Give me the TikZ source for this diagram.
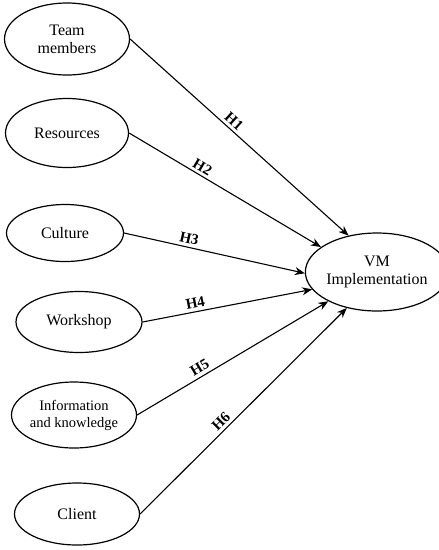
\documentclass[tikz,border=0pt]{standalone}
\usepackage{fontspec}
\setmainfont{Liberation Serif}
\usetikzlibrary{arrows.meta,shapes.geometric}

\begin{document}
\begin{tikzpicture}[x=1pt,y=-1pt,>={Stealth[length=10pt,width=8pt]},
  factor/.style={ellipse,draw,line width=1.2pt,inner sep=0pt,align=center,font=\fontsize{16}{18}\selectfont},
  path/.style={->,line width=1.1pt},
  hyp/.style={sloped,above,inner sep=3pt,font=\fontsize{15}{16}\selectfont\bfseries}]
  \useasboundingbox (0,0) rectangle (439,550);
  \node[factor,minimum width=125pt,minimum height=72pt] (f1) at (67,39) {Team\\members};
  \node[factor,minimum width=123pt,minimum height=69pt] (f2) at (67,133) {Resources};
  \node[factor,minimum width=117pt,minimum height=57pt] (f3) at (65,233) {Culture};
  \node[factor,minimum width=126pt,minimum height=61pt] (f4) at (79,322) {Workshop};
  \node[factor,minimum width=125pt,minimum height=66pt,font=\fontsize{14.5}{17}\selectfont] (f5) at (74,415) {Information\\and knowledge};
  \node[factor,minimum width=125pt,minimum height=62pt] (f6) at (77,514) {Client};
  \node[factor,minimum width=115pt,minimum height=78pt] (vm) at (377,272) {VM\\Implementation};
  \draw[path] (f1.east) -- node[hyp,pos=0.45] {H1} (vm.128);
  \draw[path] (f2.east) -- node[hyp,pos=0.36] {H2} (vm.156);
  \draw[path] (f3.east) -- node[hyp,pos=0.35] {H3} (vm.181);
  \draw[path] (f4.east) -- node[hyp,pos=0.32] {H4} (vm.195);
  \draw[path] (f5.east) -- node[hyp,pos=0.35] {H5} (vm.211);
  \draw[path] (f6.east) -- node[hyp,pos=0.42] {H6} (vm.230);
\end{tikzpicture}
\end{document}
